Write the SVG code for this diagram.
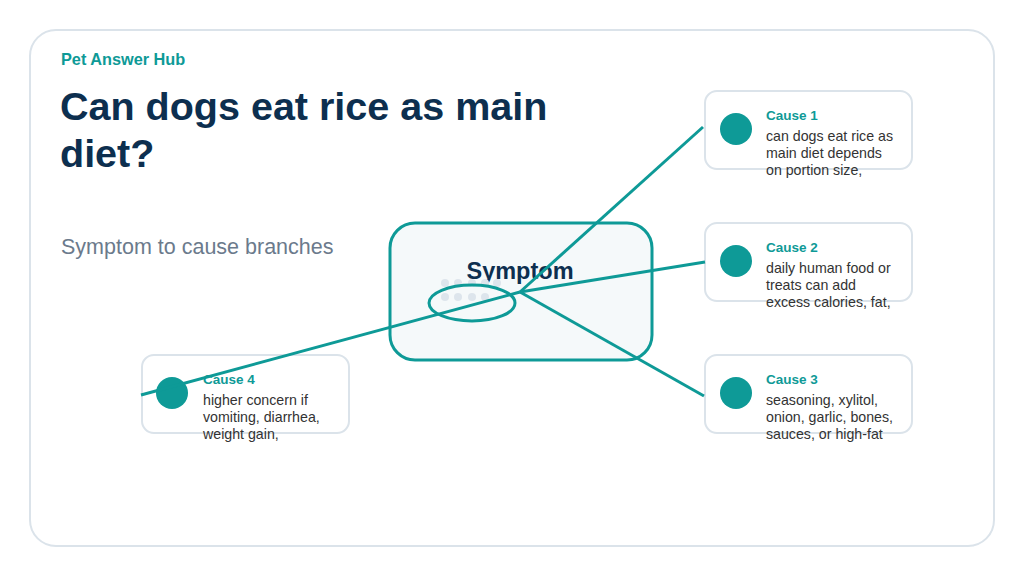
<svg xmlns="http://www.w3.org/2000/svg" width="1024" height="576" viewBox="0 0 1024 576">
<style>
.card{fill:#fff;stroke:#dbe3ea;stroke-width:2}
.ct{font-family:"Liberation Sans",Arial,sans-serif;font-size:13.5px;font-weight:bold;fill:#0e9a97}
.cb{font-family:"Liberation Sans",Arial,sans-serif;font-size:14.2px;fill:#333}
.dot{fill:#0e9a97}
.ln{stroke:#0e9a97;stroke-width:3;fill:none}
.gd{fill:#dde5ec}
</style>
<rect width="1024" height="576" fill="#fff"/>
<rect x="30" y="30" width="964" height="516" rx="26" fill="#fff" stroke="#dbe3ea" stroke-width="2"/>
<text x="61" y="65" font-family="Liberation Sans,Arial,sans-serif" font-size="16.3" font-weight="bold" fill="#0e9a97">Pet Answer Hub</text>
<text font-family="Liberation Sans,Arial,sans-serif" font-size="39.5" font-weight="bold" fill="#0d2f4f"><tspan x="60" y="120">Can dogs eat rice as main</tspan><tspan x="60" y="167">diet?</tspan></text>
<text x="61" y="254" font-family="Liberation Sans,Arial,sans-serif" font-size="21.5" fill="#6b7a8c">Symptom to cause branches</text>
<g id="symptom">
<rect x="390" y="223" width="262" height="137" rx="25" fill="#f5f9fa" stroke="#0e9a97" stroke-width="3"/>
<text x="520" y="279" text-anchor="middle" font-family="Liberation Sans,Arial,sans-serif" font-size="23.5" font-weight="bold" fill="#0d2f4f">Symptom</text>
<g class="gd"><circle cx="445" cy="283" r="4"/><circle cx="458" cy="283" r="4"/><circle cx="472" cy="283" r="4"/><circle cx="485" cy="283" r="4"/><circle cx="497" cy="283" r="4"/><circle cx="445" cy="297" r="4"/><circle cx="458" cy="297" r="4"/><circle cx="472" cy="297" r="4"/><circle cx="485" cy="297" r="4"/></g>
<ellipse cx="472" cy="303" rx="43" ry="18" fill="none" stroke="#0e9a97" stroke-width="3"/>
</g>
<g id="cause1"><rect class="card" x="705" y="91" width="207" height="78" rx="12"/><circle class="dot" cx="736" cy="129" r="16"/><text class="ct" x="766" y="120">Cause 1</text><text class="cb"><tspan x="766" y="141">can dogs eat rice as</tspan><tspan x="766" y="158">main diet depends</tspan><tspan x="766" y="175">on portion size,</tspan></text></g>
<g id="cause2"><rect class="card" x="705" y="223" width="207" height="78" rx="12"/><circle class="dot" cx="736" cy="261" r="16"/><text class="ct" x="766" y="252">Cause 2</text><text class="cb"><tspan x="766" y="273">daily human food or</tspan><tspan x="766" y="290">treats can add</tspan><tspan x="766" y="307">excess calories, fat,</tspan></text></g>
<g id="cause3"><rect class="card" x="705" y="355" width="207" height="78" rx="12"/><circle class="dot" cx="736" cy="393" r="16"/><text class="ct" x="766" y="384">Cause 3</text><text class="cb"><tspan x="766" y="405">seasoning, xylitol,</tspan><tspan x="766" y="422">onion, garlic, bones,</tspan><tspan x="766" y="439">sauces, or high-fat</tspan></text></g>
<g id="cause4"><rect class="card" x="142" y="355" width="207" height="78" rx="12"/><circle class="dot" cx="172" cy="393" r="16"/><text class="ct" x="203" y="384">Cause 4</text><text class="cb"><tspan x="203" y="405">higher concern if</tspan><tspan x="203" y="422">vomiting, diarrhea,</tspan><tspan x="203" y="439">weight gain,</tspan></text></g>
<g id="connectors" class="ln">
<line x1="520" y1="292" x2="703" y2="127"/>
<line x1="520" y1="292" x2="705" y2="262"/>
<line x1="520" y1="292" x2="704" y2="396"/>
<line x1="520" y1="292" x2="141" y2="395"/>
</g>
</svg>
